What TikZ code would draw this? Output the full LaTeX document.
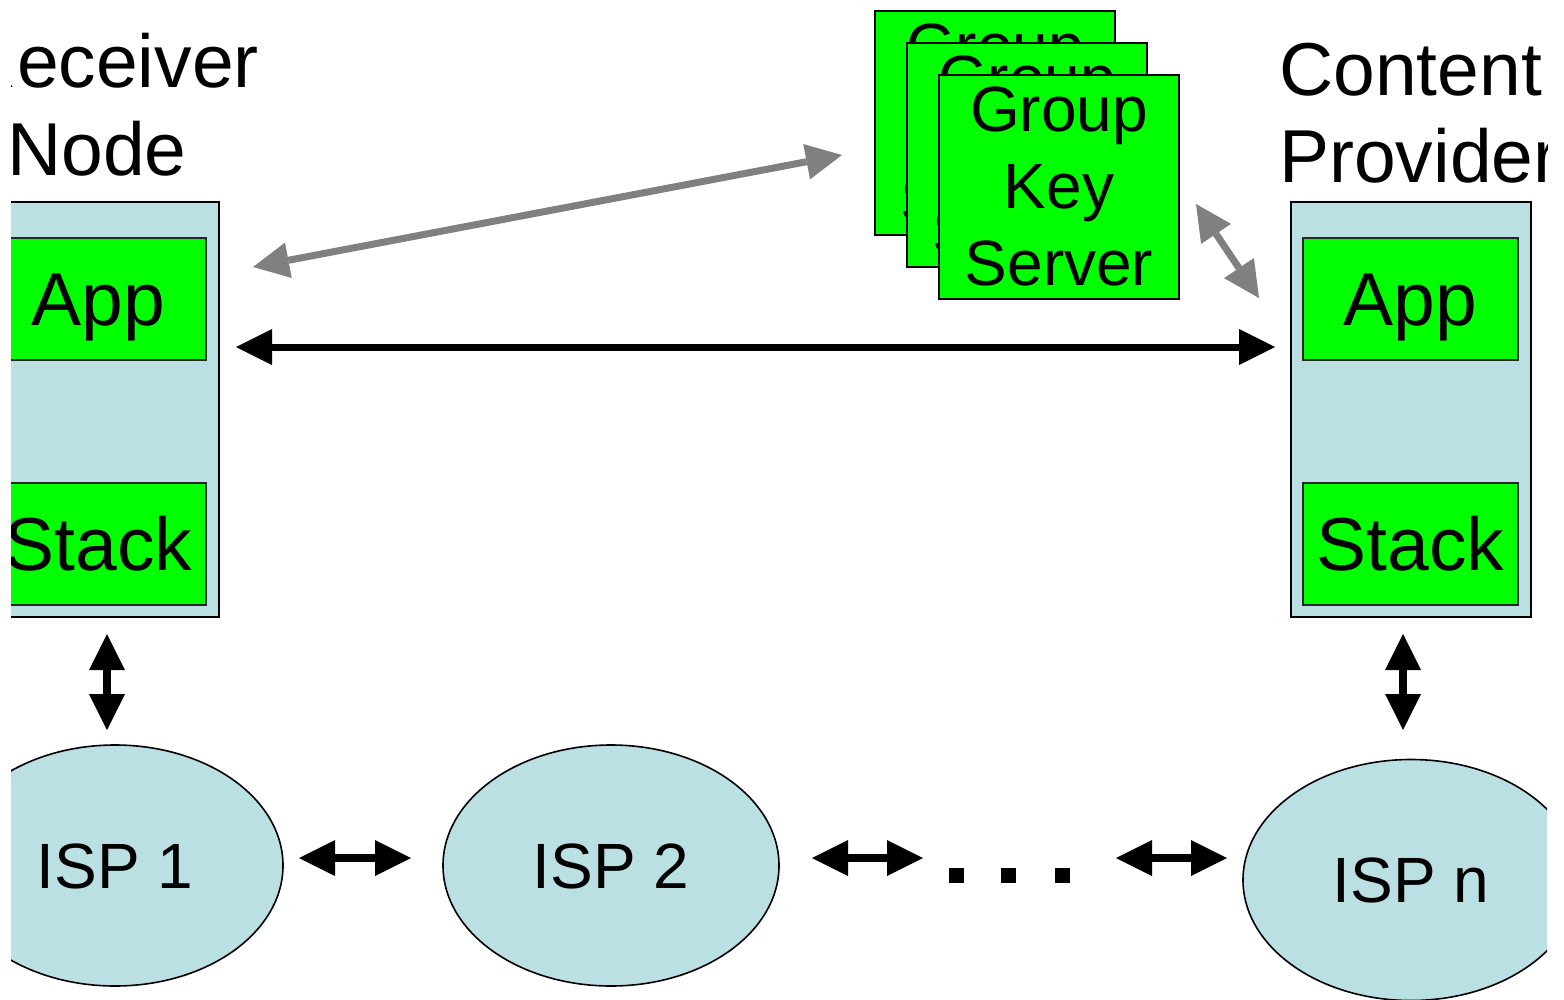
\documentclass[tikz,border=0pt]{standalone}
\usepackage{fontspec}
\setmainfont{Liberation Sans}
\usetikzlibrary{arrows.meta,shapes.geometric}
\definecolor{panelblue}{RGB}{187,224,228}
\definecolor{boxgreen}{RGB}{0,255,0}
\definecolor{linkgray}{RGB}{128,128,128}

\begin{document}
\begin{tikzpicture}[x=1pt,y=-1pt,
  tip/.tip={Triangle[length=36pt,width=36pt,line width=0pt]},
  panel/.style={draw=black,line width=2pt,fill=panelblue,minimum width=240pt,minimum height=415pt,inner sep=0pt},
  layer/.style={draw=black!85,line width=1.6pt,fill=boxgreen,minimum width=215pt,minimum height=122pt,inner sep=0pt,
    font=\fontsize{75}{80}\selectfont,text height=53.7pt,text depth=0pt},
  keybox/.style={draw=black,line width=2pt,fill=boxgreen,minimum width=240pt,minimum height=224pt,inner sep=0pt,
    align=center,font=\fontsize{64}{77}\selectfont},
  isp/.style={ellipse,draw=black,line width=1.6pt,fill=panelblue,minimum width=336pt,minimum height=241pt,inner sep=0pt,
    font=\fontsize{64}{70}\selectfont,text height=45.8pt,text depth=0pt},
  title/.style={font=\fontsize{75}{80}\selectfont,inner sep=0pt},
  link/.style={draw=black,line width=7pt,tip-tip},
  glink/.style={draw=linkgray,line width=7pt,tip-tip},
  hop/.style={draw=black,line width=8pt,tip-tip},
  dotsq/.style={fill=black,minimum size=15pt,inner sep=0pt}
]
\useasboundingbox (0,0) rectangle (1564,999);
\begin{scope}
\clip (11,0) rectangle (1547,999);

% end hosts
\node[panel] (lpanel) at (99,409.5) {};
\node[layer] (lapp) at (98.5,299) {App};
\node[layer] (lstack) at (98.5,544) {Stack};
\node[panel] (rpanel) at (1411,409.5) {};
\node[layer] (rapp) at (1410.5,299) {App};
\node[layer] (rstack) at (1410.5,544) {Stack};

% host titles
\node[title,anchor=base east] (rxA) at (259,87) {Receiver};
\node[title,anchor=base west] (rxB) at (7,175) {Node};
\node[title,anchor=base west] (cpA) at (1279,95) {Content};
\node[title,anchor=base west] (cpB) at (1279,182) {Provider};

% replicated key servers
\node[keybox] (gks3) at (995,123) {Group\\Key\\Server};
\node[keybox] (gks2) at (1027,155) {Group\\Key\\Server};
\node[keybox] (gks1) at (1059,186.5) {Group\\Key\\Server};

% ISP chain
\node[isp] (isp1) at (115,865.5) {ISP 1};
\node[isp] (isp2) at (611,865.5) {ISP 2};
\node[isp] (ispn) at (1411,880) {ISP n};
\node[dotsq] (dA) at (956,875) {};
\node[dotsq] (dB) at (1008,875) {};
\node[dotsq] (dC) at (1062,875) {};

% link end points
\coordinate (kL) at (253,267);
\coordinate (kR) at (842,155);
\coordinate (kS) at (1196,204);
\coordinate (kC) at (1259,298);
\coordinate (eL) at (236,347);
\coordinate (eR) at (1275,347);
\coordinate (vLt) at (107,634);
\coordinate (vLb) at (107,730);
\coordinate (vRt) at (1403,634);
\coordinate (vRb) at (1403,730);
\coordinate (h1a) at (299,858);
\coordinate (h1b) at (411,858);
\coordinate (h2a) at (812,858);
\coordinate (h2b) at (923,858);
\coordinate (h3a) at (1116,858);
\coordinate (h3b) at (1227,858);

% connectors
\draw[glink] (kL) -- (kR);
\draw[glink] (kS) -- (kC);
\draw[link] (eL) -- (eR);
\draw[hop] (vLt) -- (vLb);
\draw[hop] (vRt) -- (vRb);
\draw[hop] (h1a) -- (h1b);
\draw[hop] (h2a) -- (h2b);
\draw[hop] (h3a) -- (h3b);
\end{scope}
\end{tikzpicture}
\end{document}
